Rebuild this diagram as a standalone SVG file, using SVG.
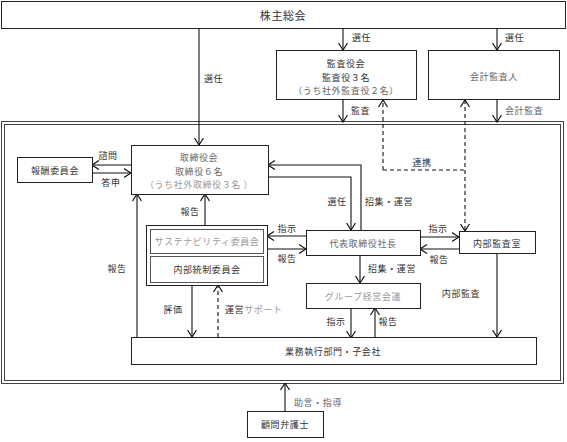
<svg xmlns="http://www.w3.org/2000/svg" width="567" height="442" viewBox="0 0 567 442">
<defs>
<marker id="a" viewBox="0 0 8 10" markerWidth="8" markerHeight="10" refX="7.5" refY="5" orient="auto-start-reverse" markerUnits="userSpaceOnUse">
<path d="M0.5,0.5 L7.5,5 L0.5,9.5" fill="none" stroke="#111" stroke-width="1.2"/>
</marker>
<style>
text{font-family:"Noto Sans CJK JP","Noto Sans",sans-serif;font-size:9px;fill:#333;text-anchor:middle;dominant-baseline:central;letter-spacing:0.6px}
.l{text-anchor:start}
.g{fill:#666}
.lg{fill:#999}
.box{fill:#fff;stroke:#222;stroke-width:1}
.ib{fill:#fff;stroke:#555;stroke-width:1}
.c{fill:none;stroke:#111;stroke-width:1.1}
.d{fill:none;stroke:#111;stroke-width:1.1;stroke-dasharray:4,3}
.fr{fill:none;stroke:#444;stroke-width:1}
</style>
</defs>
<rect width="567" height="442" fill="#fff"/>

<g id="frame">
<rect class="fr" x="1.5" y="121.5" width="562" height="262"/>
<rect class="fr" x="4.5" y="124.5" width="556" height="256"/>
</g>

<g id="connectors">
<path class="c" d="M199,29 V145" marker-end="url(#a)"/>
<path class="c" d="M343,29 V50" marker-end="url(#a)"/>
<path class="c" d="M497,29 V50" marker-end="url(#a)"/>
<path class="c" d="M343,99 V122" marker-end="url(#a)"/>
<path class="c" d="M497,99 V122" marker-end="url(#a)"/>
<path class="d" d="M383,170 V100" marker-end="url(#a)"/>
<path class="d" d="M383,170 H465"/>
<path class="d" d="M465,100 V231" marker-start="url(#a)" marker-end="url(#a)"/>
<path class="c" d="M131,165 H92" marker-end="url(#a)"/>
<path class="c" d="M92,173 H131" marker-end="url(#a)"/>
<path class="c" d="M268,177 H351 V230" marker-end="url(#a)"/>
<path class="c" d="M361,230 V165 H268" marker-end="url(#a)"/>
<path class="c" d="M205,225 V194" marker-end="url(#a)"/>
<path class="c" d="M306,236 H267" marker-end="url(#a)"/>
<path class="c" d="M267,249 H306" marker-end="url(#a)"/>
<path class="c" d="M420,237 H459" marker-end="url(#a)"/>
<path class="c" d="M459,249 H420" marker-end="url(#a)"/>
<path class="c" d="M360,255 V283" marker-end="url(#a)"/>
<path class="c" d="M351,308 V338" marker-end="url(#a)"/>
<path class="c" d="M375,338 V308" marker-end="url(#a)"/>
<path class="c" d="M497,253 V337" marker-end="url(#a)"/>
<path class="c" d="M192,285 V337" marker-end="url(#a)"/>
<path class="d" d="M218,337 V285" marker-end="url(#a)"/>
<path class="c" d="M137,338 V194" marker-end="url(#a)"/>
<path class="c" d="M285,411 V383" marker-end="url(#a)"/>
</g>

<g id="labels">
<text class="l" x="204" y="78">選任</text>
<text class="l" x="352" y="37">選任</text>
<text class="l" x="505" y="37">選任</text>
<text class="l" x="351" y="110">監査</text>
<text class="l g" x="505" y="110">会計監査</text>
<text x="422" y="162">連携</text>
<text x="108" y="155">諮問</text>
<text x="111" y="182">答申</text>
<text x="337" y="201">選任</text>
<text x="389" y="201">招集・運営</text>
<text x="190" y="211">報告</text>
<text x="117" y="268">報告</text>
<text x="287" y="228">指示</text>
<text x="287" y="258">報告</text>
<text x="438" y="228">指示</text>
<text x="439" y="259">報告</text>
<text x="392" y="268">招集・運営</text>
<text x="461" y="293">内部監査</text>
<text x="173" y="309">評価</text>
<text class="l" x="225" y="309">運営<tspan class="lg">サポート</tspan></text>
<text x="336" y="321">指示</text>
<text x="388" y="321">報告</text>
<text class="g" x="318" y="402">助言・指導</text>
</g>

<g id="n-shareholders">
<rect class="box" x="1.5" y="1.5" width="564" height="27"/>
<text x="283" y="15" style="font-size:11px">株主総会</text>
</g>

<g id="n-auditboard">
<rect class="box" x="276.5" y="50.5" width="140" height="49"/>
<text x="346" y="63">監査役会</text>
<text x="346" y="77">監査役３名</text>
<text x="346" y="90" class="g">（うち社外監査役２名）</text>
</g>

<g id="n-accountant">
<rect class="box" x="428.5" y="50.5" width="131" height="49"/>
<text x="494" y="76" class="g">会計監査人</text>
</g>

<g id="n-compensation">
<rect class="box" x="17.5" y="157.5" width="75" height="25"/>
<text x="55" y="170">報酬委員会</text>
</g>

<g id="n-board">
<rect class="box" x="131.5" y="145.5" width="137" height="49"/>
<text x="199" y="157" class="g">取締役会</text>
<text x="199" y="171" class="g">取締役６名</text>
<text x="199" y="184" class="lg">（うち社外取締役３名 ）</text>
</g>

<g id="n-committees">
<rect class="box" x="146.5" y="225.5" width="121" height="60" stroke-width="1.3"/>
<rect class="ib" x="150.5" y="229.5" width="113" height="24"/>
<text x="207" y="241" class="lg">サステナビリティ委員会</text>
<rect class="ib" x="150.5" y="256.5" width="113" height="26"/>
<text x="207" y="269">内部統制委員会</text>
</g>

<g id="n-president">
<rect class="box" x="306.5" y="230.5" width="114" height="25"/>
<text x="363" y="243" class="g">代表取締役社長</text>
</g>

<g id="n-internalaudit">
<rect class="box" x="459.5" y="231.5" width="76" height="22"/>
<text x="497" y="243">内部監査室</text>
</g>

<g id="n-group">
<rect class="box" x="306.5" y="283.5" width="114" height="25"/>
<text x="363" y="296" class="lg">グループ経営会議</text>
</g>

<g id="n-operations">
<rect class="box" x="131.5" y="337.5" width="405" height="27"/>
<text x="333" y="351">業務執行部門・子会社</text>
</g>

<g id="n-lawyer">
<rect class="box" x="247.5" y="411.5" width="76" height="26"/>
<text x="285" y="424">顧問弁護士</text>
</g>
</svg>
